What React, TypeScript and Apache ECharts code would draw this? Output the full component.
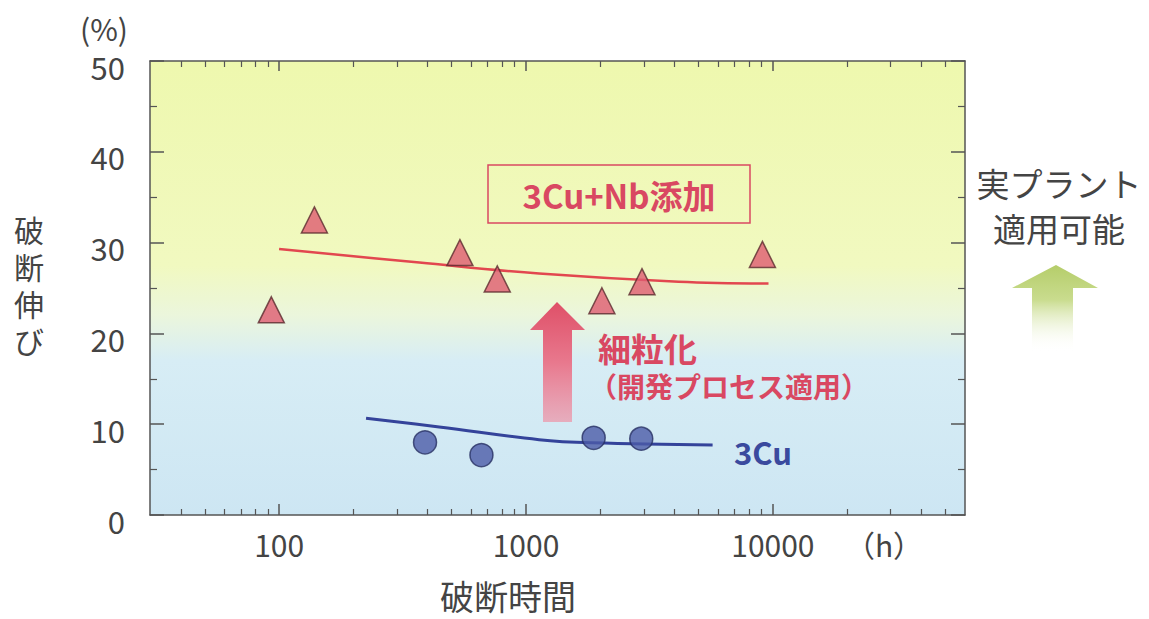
import React, { useEffect, useRef } from "react";
import * as echarts from "echarts";

// ---- axis ranges / ticks ----
const xMin = 30;
const xMax = 60000;
const xMajorTicks = [100, 1000, 10000];
const xMinorTicks = [
  40, 50, 60, 70, 80, 90,
  200, 300, 400, 500, 600, 700, 800, 900,
  2000, 3000, 4000, 5000, 6000, 7000, 8000, 9000,
  20000, 30000, 40000, 50000,
];
const yMin = 0;
const yMax = 50;
const yInterval = 10;

// ---- data: 3Cu+Nb (triangles) ----
const nbHours = [93, 139, 540, 765, 2030, 2950, 9070];
const nbElong = [22.6, 32.5, 28.9, 26.0, 23.6, 25.7, 28.7];
const nbTrendHours = [100, 370, 1130, 4150, 9600];
const nbTrendElong = [29.3, 27.8, 26.6, 25.7, 25.5];

// ---- data: 3Cu (circles) ----
const cuHours = [390, 660, 1880, 2930];
const cuElong = [8.0, 6.6, 8.5, 8.4];
const cuTrendHours = [225, 445, 1130, 1850, 5700];
const cuTrendElong = [10.65, 9.7, 8.3, 7.95, 7.7];

// ---- texts ----
const yTitleChars = ["破", "断", "伸", "び"];

const FONT = '"Noto Sans CJK JP", "Noto Sans", sans-serif';
const AXIS_COLOR = "#555555";
const TEXT_COLOR = "#444444";
const RED = "#d94862";
const BLUE = "#3a4a9e";

const pair = (xs: number[], ys: number[]) => xs.map((x, i) => [x, ys[i]]);

export default function App() {
  const ref = useRef<HTMLDivElement>(null);

  useEffect(() => {
    if (!ref.current) return;
    const chart = echarts.init(ref.current, undefined, { renderer: "svg" });

    const xBase = {
      type: "log" as const,
      min: xMin,
      max: xMax,
      logBase: 10,
      splitLine: { show: false },
      gridIndex: 0,
    };
    const yBase = {
      type: "value" as const,
      min: yMin,
      max: yMax,
      interval: yInterval,
      splitLine: { show: false },
    };

    const yTitleGraphics = yTitleChars.map((ch, i) => ({
      type: "text",
      z: 10,
      style: {
        text: ch,
        x: 29,
        y: 229 + i * 37,
        textAlign: "center",
        textVerticalAlign: "middle",
        fontSize: 30,
        fontFamily: FONT,
        fill: TEXT_COLOR,
      },
    }));

    chart.setOption({
      animation: false,
      backgroundColor: "#ffffff",
      grid: {
        left: 150,
        right: 184,
        top: 61,
        bottom: 104,
        show: true,
        borderWidth: 0,
        backgroundColor: new echarts.graphic.LinearGradient(0, 0, 0, 1, [
          { offset: 0, color: "#eef8ae" },
          { offset: 0.45, color: "#f1f9c0" },
          { offset: 0.56, color: "#ebf6dc" },
          { offset: 0.66, color: "#d7edf5" },
          { offset: 1, color: "#cde6f3" },
        ]),
      },
      xAxis: [
        {
          ...xBase,
          position: "bottom",
          axisLine: { show: true, lineStyle: { color: AXIS_COLOR, width: 1.5 } },
          axisTick: { show: true, inside: true, length: 11, customValues: xMajorTicks, lineStyle: { color: AXIS_COLOR, width: 1.5 } },
          axisLabel: {
            show: true,
            customValues: xMajorTicks,
            margin: 14,
            fontSize: 30,
            fontFamily: FONT,
            color: TEXT_COLOR,
            formatter: (v: number) => String(Math.round(v)),
          },
        },
        {
          ...xBase,
          position: "bottom",
          axisLine: { show: false },
          axisTick: { show: true, inside: true, length: 6, customValues: xMinorTicks, lineStyle: { color: AXIS_COLOR, width: 1.2 } },
          axisLabel: { show: false },
        },
        {
          ...xBase,
          position: "top",
          axisLine: { show: true, lineStyle: { color: AXIS_COLOR, width: 1.5 } },
          axisTick: { show: true, inside: true, length: 10, customValues: xMajorTicks, lineStyle: { color: AXIS_COLOR, width: 1.5 } },
          axisLabel: { show: false },
        },
        {
          ...xBase,
          position: "top",
          axisLine: { show: false },
          axisTick: { show: true, inside: true, length: 6, customValues: xMinorTicks, lineStyle: { color: AXIS_COLOR, width: 1.2 } },
          axisLabel: { show: false },
        },
      ],
      yAxis: [
        {
          ...yBase,
          position: "left",
          axisLine: { show: true, lineStyle: { color: AXIS_COLOR, width: 1.5 } },
          axisTick: { show: true, inside: true, length: 14, lineStyle: { color: AXIS_COLOR, width: 1.5 } },
          minorTick: { show: true, splitNumber: 2, length: 7, lineStyle: { color: AXIS_COLOR, width: 1.2 } },
          axisLabel: {
            margin: 25,
            fontSize: 31,
            fontFamily: FONT,
            color: TEXT_COLOR,
            verticalAlign: "top",
            lineHeight: 10,
          },
        },
        {
          ...yBase,
          position: "right",
          axisLine: { show: true, lineStyle: { color: AXIS_COLOR, width: 1.5 } },
          axisTick: { show: true, inside: true, length: 14, lineStyle: { color: AXIS_COLOR, width: 1.5 } },
          minorTick: { show: true, splitNumber: 2, length: 7, lineStyle: { color: AXIS_COLOR, width: 1.2 } },
          axisLabel: { show: false },
        },
      ],
      series: [
        {
          name: "3Cu+Nb trend",
          type: "line",
          xAxisIndex: 0,
          yAxisIndex: 0,
          data: pair(nbTrendHours, nbTrendElong),
          smooth: 0.4,
          showSymbol: false,
          lineStyle: { color: "#e2474f", width: 2.5 },
          z: 3,
        },
        {
          name: "3Cu trend",
          type: "line",
          xAxisIndex: 0,
          yAxisIndex: 0,
          data: pair(cuTrendHours, cuTrendElong),
          smooth: 0.4,
          showSymbol: false,
          lineStyle: { color: "#34439a", width: 3 },
          z: 3,
        },
        {
          name: "3Cu+Nb添加",
          type: "scatter",
          xAxisIndex: 0,
          yAxisIndex: 0,
          data: pair(nbHours, nbElong),
          symbol: "triangle",
          symbolSize: [26, 26],
          itemStyle: { color: "#df5b70", borderColor: "#5b2a2e", borderWidth: 1.5 },
          z: 4,
        },
        {
          name: "3Cu",
          type: "scatter",
          xAxisIndex: 0,
          yAxisIndex: 0,
          data: pair(cuHours, cuElong),
          symbol: "circle",
          symbolSize: 23,
          itemStyle: { color: "#4c5ba8", borderColor: "#272f63", borderWidth: 1.5 },
          z: 4,
        },
      ],
      graphic: [
        // (%) unit
        {
          type: "text",
          z: 10,
          style: { text: "(%)", x: 104, y: 28, textAlign: "center", textVerticalAlign: "middle", fontSize: 30, fontFamily: FONT, fill: TEXT_COLOR },
        },
        // (h) unit
        {
          type: "text",
          z: 10,
          style: { text: "（h）", x: 884, y: 544, textAlign: "center", textVerticalAlign: "middle", fontSize: 30, fontFamily: FONT, fill: TEXT_COLOR },
        },
        // y title (vertical)
        ...yTitleGraphics,
        // x title
        {
          type: "text",
          z: 10,
          style: { text: "破断時間", x: 508, y: 595, textAlign: "center", textVerticalAlign: "middle", fontSize: 34, fontFamily: FONT, fill: TEXT_COLOR },
        },
        // right text
        {
          type: "text",
          z: 10,
          style: { text: "実プラント\n適用可能", x: 1059, y: 205, textAlign: "center", textVerticalAlign: "middle", fontSize: 33, lineHeight: 45, fontFamily: FONT, fill: TEXT_COLOR },
        },
        // green arrow
        {
          type: "polygon",
          z: 5,
          shape: {
            points: [
              [1056, 265], [1098, 288], [1073, 288], [1073, 352], [1032, 352], [1032, 288], [1012, 288],
            ],
          },
          style: {
            fill: new echarts.graphic.LinearGradient(0, 0, 0, 1, [
              { offset: 0, color: "#b5cd6a" },
              { offset: 0.4, color: "#c9dc8e" },
              { offset: 1, color: "rgba(255,255,255,0)" },
            ]),
          },
        },
        // red box
        {
          type: "rect",
          z: 6,
          shape: { x: 488, y: 165, width: 262, height: 58 },
          style: { fill: "rgba(0,0,0,0)", stroke: RED, lineWidth: 1.5 },
        },
        {
          type: "text",
          z: 10,
          style: { text: "3Cu+Nb添加", x: 619, y: 195, textAlign: "center", textVerticalAlign: "middle", fontSize: 33, fontWeight: "bold", fontFamily: FONT, fill: RED },
        },
        // red arrow
        {
          type: "polygon",
          z: 5,
          shape: {
            points: [
              [557, 302], [585, 330], [572, 330], [572, 422], [543, 422], [543, 330], [530, 330],
            ],
          },
          style: {
            fill: new echarts.graphic.LinearGradient(0, 0, 0, 1, [
              { offset: 0, color: "#df5068" },
              { offset: 0.5, color: "#e8788d" },
              { offset: 1, color: "rgba(240,140,160,0.65)" },
            ]),
          },
        },
        {
          type: "text",
          z: 10,
          style: { text: "細粒化", x: 598, y: 348, textAlign: "left", textVerticalAlign: "middle", fontSize: 33, fontWeight: "bold", fontFamily: FONT, fill: RED },
        },
        {
          type: "text",
          z: 10,
          style: { text: "（開発プロセス適用）", x: 729, y: 386, textAlign: "center", textVerticalAlign: "middle", fontSize: 28, fontWeight: "bold", fontFamily: FONT, fill: RED },
        },
        // 3Cu label
        {
          type: "text",
          z: 10,
          style: { text: "3Cu", x: 734, y: 451, textAlign: "left", textVerticalAlign: "middle", fontSize: 31, fontWeight: "bold", fontFamily: FONT, fill: BLUE },
        },
      ],
    });

    return () => {
      chart.dispose();
    };
  }, []);

  return (
    <div
      ref={ref}
      style={{ position: "absolute", left: 0, top: 0, width: 1149, height: 619, background: "#fff" }}
    />
  );
}
